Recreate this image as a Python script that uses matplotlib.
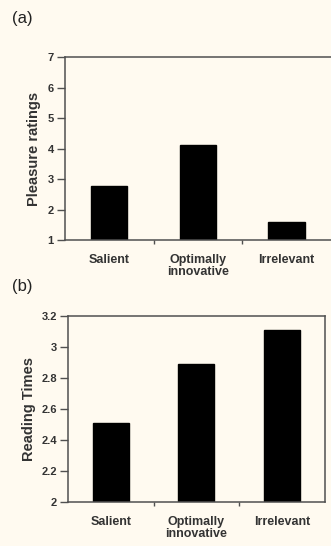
import matplotlib.pyplot as plt

plt.rcParams['font.family'] = ['Liberation Sans', 'DejaVu Sans']

# Data
categories = ["Salient", "Optimally\ninnovative", "Irrelevant"]
pleasure = [2.78, 4.1, 1.58]
reading = [2.51, 2.89, 3.11]
pleasure_ticks = [1, 2, 3, 4, 5, 6, 7]
reading_ticks = [2, 2.2, 2.4, 2.6, 2.8, 3, 3.2]
reading_ticklabels = ["2", "2.2", "2.4", "2.6", "2.8", "3", "3.2"]

text_col = "#333333"
spine_col = "#505050"

fig = plt.figure(figsize=(3.31, 5.46), dpi=100, facecolor="#fffaf0")
ax_a = fig.add_axes([0.196, 0.5604, 0.804, 0.3352])
ax_b = fig.add_axes([0.2054, 0.0811, 0.7764, 0.3394])

x = range(1, len(categories) + 1)


def style(ax):
    ax.set_facecolor("none")
    ax.set_xlim(0.5, 3.5)
    ax.set_xticks(list(x))
    ax.set_xticklabels(categories, fontsize=9, fontweight="bold",
                       color=text_col, linespacing=1.05)
    ax.tick_params(axis="x", which="major", length=0, pad=10)
    ax.set_xticks([1.5, 2.5], minor=True)
    ax.tick_params(axis="x", which="minor", length=3, direction="out",
                   color=spine_col, width=1)
    ax.tick_params(axis="y", length=6, width=1, color=spine_col, pad=2,
                   labelsize=8, labelcolor=text_col)
    for lab in ax.get_yticklabels():
        lab.set_fontweight("bold")
    for sp in ax.spines.values():
        sp.set_color(spine_col)
        sp.set_linewidth(1.1)


# (a) Pleasure ratings
ax_a.bar(x, [p - 1 for p in pleasure], bottom=1, width=0.41,
         color="black", edgecolor="black")
ax_a.set_ylim(1, 7)
ax_a.set_yticks(pleasure_ticks)
style(ax_a)
ax_a.spines["right"].set_visible(False)
ax_a.set_ylabel("Pleasure ratings", fontsize=10.5, fontweight="bold",
                color=text_col, labelpad=5)

# (b) Reading times
ax_b.bar(x, [r - 2 for r in reading], bottom=2, width=0.42,
         color="black", edgecolor="black")
ax_b.set_ylim(2, 3.2)
ax_b.set_yticks(reading_ticks)
ax_b.set_yticklabels(reading_ticklabels)
style(ax_b)
ax_b.set_ylabel("Reading Times", fontsize=10.5, fontweight="bold",
                color=text_col, labelpad=4)

fig.text(12 / 331, 1 - 18 / 546, "(a)", fontsize=12, va="center",
         color="#222222")
fig.text(12 / 331, 1 - 286 / 546, "(b)", fontsize=12, va="center",
         color="#222222")

fig.savefig("out.png", dpi=100, facecolor=fig.get_facecolor())
